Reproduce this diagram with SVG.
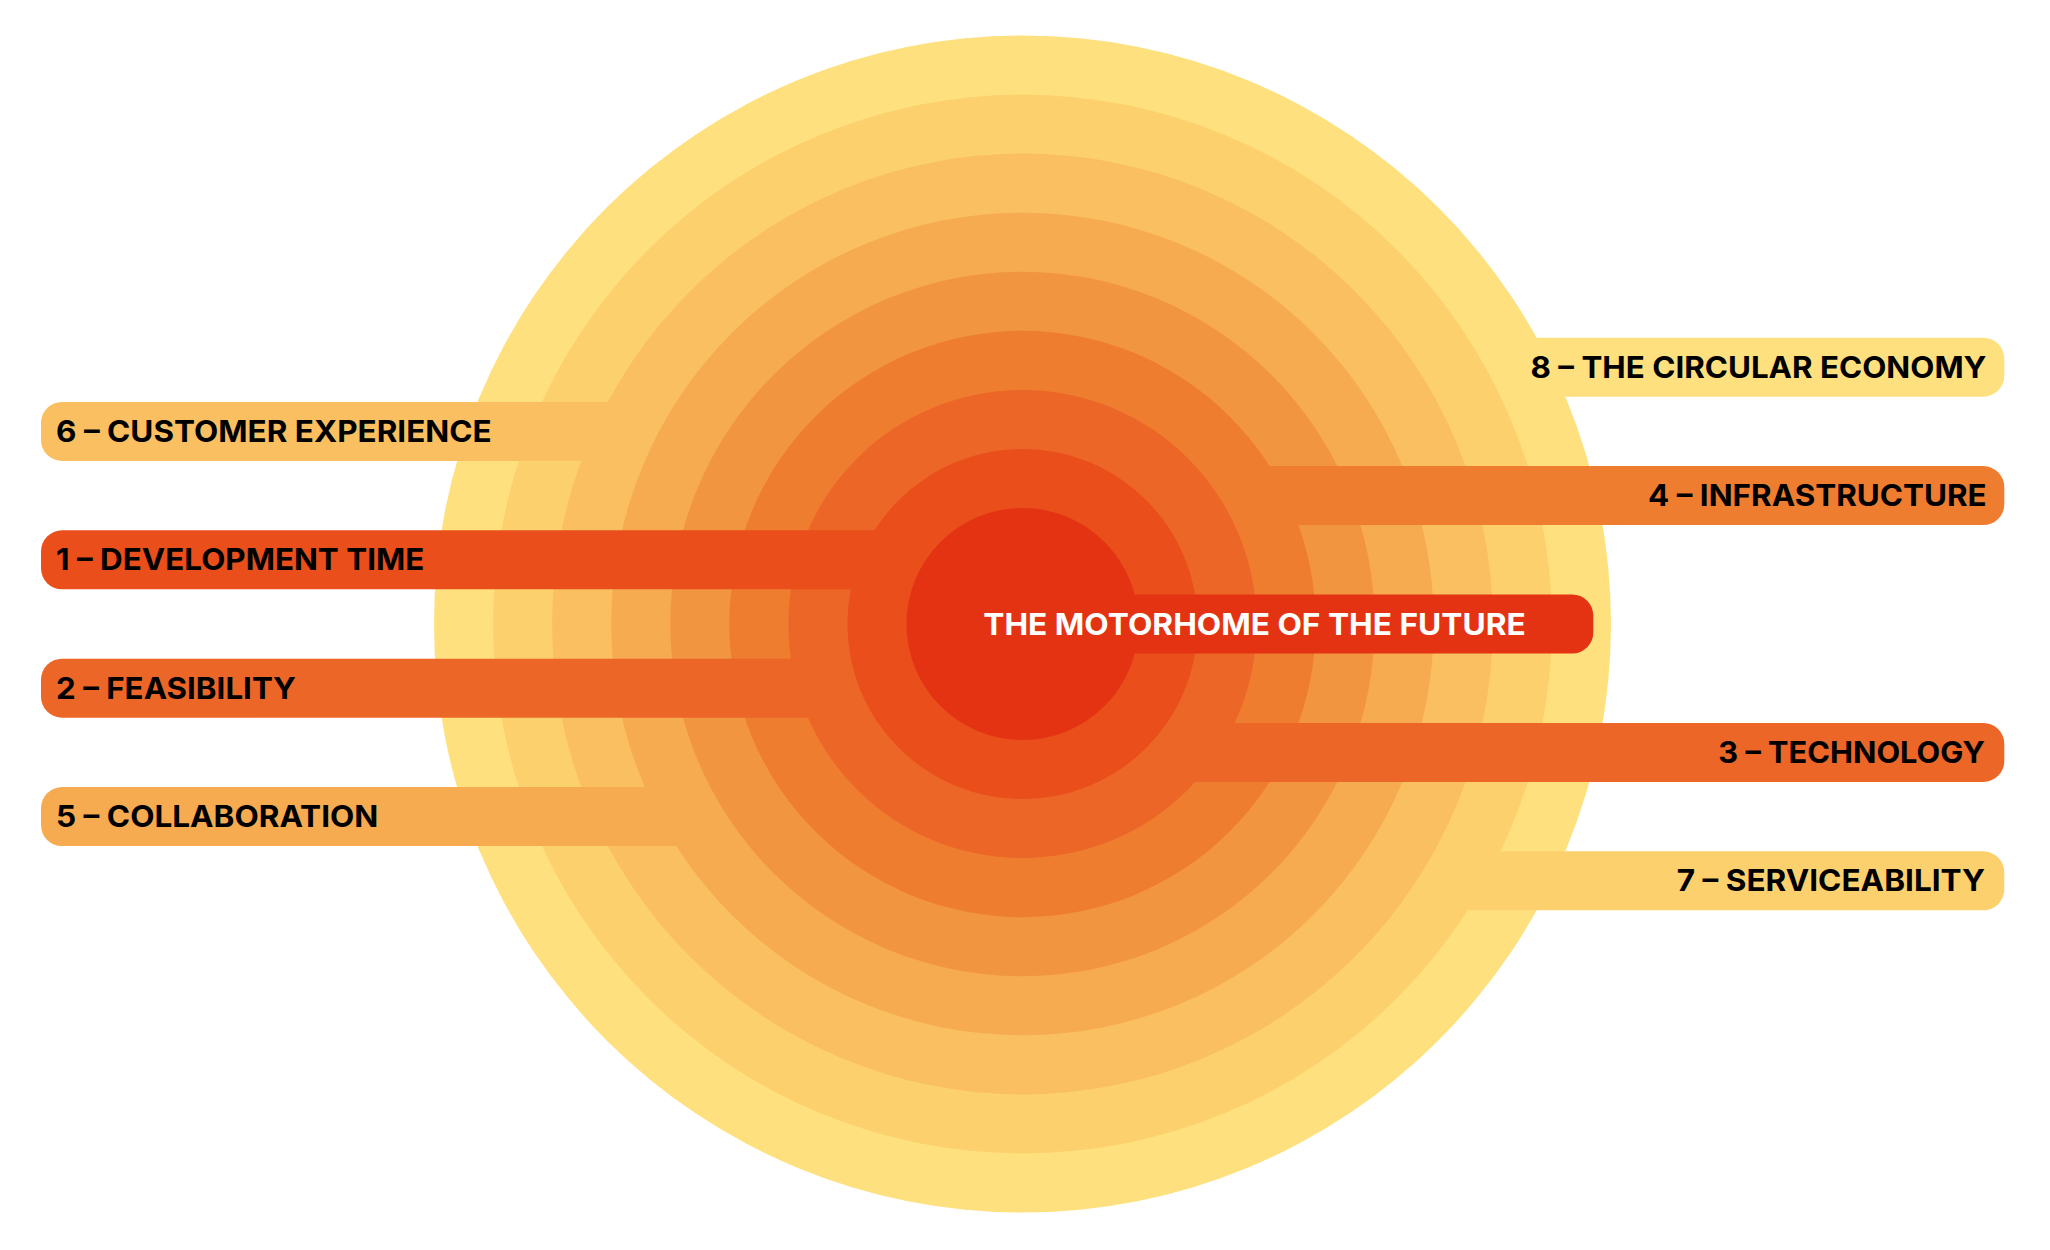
<svg xmlns="http://www.w3.org/2000/svg" width="2050" height="1250" viewBox="0 0 2050 1250">
  <style>
    .lbl { font-family: Inter, "Noto Sans", "DejaVu Sans", sans-serif; font-weight: 700; font-size: 29.5px; fill: #000000; }
    .ctr { fill: #ffffff; }
    .c0 { fill: #E43312; }
    .c1 { fill: #E94E1B; }
    .c2 { fill: #EC6627; }
    .c3 { fill: #EF7D30; }
    .c4 { fill: #F29540; }
    .c5 { fill: #F6AB50; }
    .c6 { fill: #F9BF60; }
    .c7 { fill: #FDD06E; }
    .c8 { fill: #FEE17E; }
  </style>
  <rect x="0" y="0" width="2050" height="1250" fill="#ffffff"/>

  <g id="ring-8"><circle class="c8" cx="1022.5" cy="624" r="588.5"/></g>
  <g id="node-8">
    <rect class="c8" x="1022.5" y="337.7" width="981.8" height="59" rx="21"/>
    <text class="lbl" x="1530.5" y="377.7" textLength="456" lengthAdjust="spacingAndGlyphs">8 – THE CIRCULAR ECONOMY</text>
  </g>

  <g id="ring-7"><circle class="c7" cx="1022.5" cy="624" r="529.4"/></g>
  <g id="node-7">
    <rect class="c7" x="1022.5" y="851.3" width="981.8" height="59" rx="21"/>
    <text class="lbl" x="1676.7" y="891.3" textLength="308.3" lengthAdjust="spacingAndGlyphs">7 – SERVICEABILITY</text>
  </g>

  <g id="ring-6"><circle class="c6" cx="1022.5" cy="624" r="470.4"/></g>
  <g id="node-6">
    <rect class="c6" x="41" y="401.9" width="981.5" height="59" rx="21"/>
    <text class="lbl" x="56" y="441.9" textLength="435.7" lengthAdjust="spacingAndGlyphs">6 – CUSTOMER EXPERIENCE</text>
  </g>

  <g id="ring-5"><circle class="c5" cx="1022.5" cy="624" r="411.3"/></g>
  <g id="node-5">
    <rect class="c5" x="41" y="787.1" width="981.5" height="59" rx="21"/>
    <text class="lbl" x="56" y="827.1" textLength="322.3" lengthAdjust="spacingAndGlyphs">5 – COLLABORATION</text>
  </g>

  <g id="ring-4"><circle class="c4" cx="1022.5" cy="624" r="352.2"/></g>

  <g id="ring-3"><circle class="c3" cx="1022.5" cy="624" r="293.2"/></g>
  <g id="node-4">
    <rect class="c3" x="1022.5" y="466.1" width="981.8" height="59" rx="21"/>
    <text class="lbl" x="1648" y="506.1" textLength="338.7" lengthAdjust="spacingAndGlyphs">4 – INFRASTRUCTURE</text>
  </g>

  <g id="ring-2"><circle class="c2" cx="1022.5" cy="624" r="234.1"/></g>
  <g id="node-2">
    <rect class="c2" x="41" y="658.7" width="981.5" height="59" rx="21"/>
    <text class="lbl" x="56" y="698.7" textLength="240" lengthAdjust="spacingAndGlyphs">2 – FEASIBILITY</text>
  </g>
  <g id="node-3">
    <rect class="c2" x="1022.5" y="722.9" width="981.8" height="59" rx="21"/>
    <text class="lbl" x="1718.3" y="762.9" textLength="266.7" lengthAdjust="spacingAndGlyphs">3 – TECHNOLOGY</text>
  </g>

  <g id="ring-1"><circle class="c1" cx="1022.5" cy="624" r="175.1"/></g>
  <g id="node-1">
    <rect class="c1" x="41" y="530.3" width="981.5" height="59" rx="21"/>
    <text class="lbl" x="56" y="570.3" textLength="368.3" lengthAdjust="spacingAndGlyphs">1 – DEVELOPMENT TIME</text>
  </g>

  <g id="center">
    <circle class="c0" cx="1022.5" cy="624" r="116"/>
    <rect class="c0" x="1022.5" y="594.5" width="570.8" height="59" rx="21"/>
    <text class="lbl ctr" x="983.3" y="634.5" textLength="542.4" lengthAdjust="spacingAndGlyphs">THE MOTORHOME OF THE FUTURE</text>
  </g>
</svg>
